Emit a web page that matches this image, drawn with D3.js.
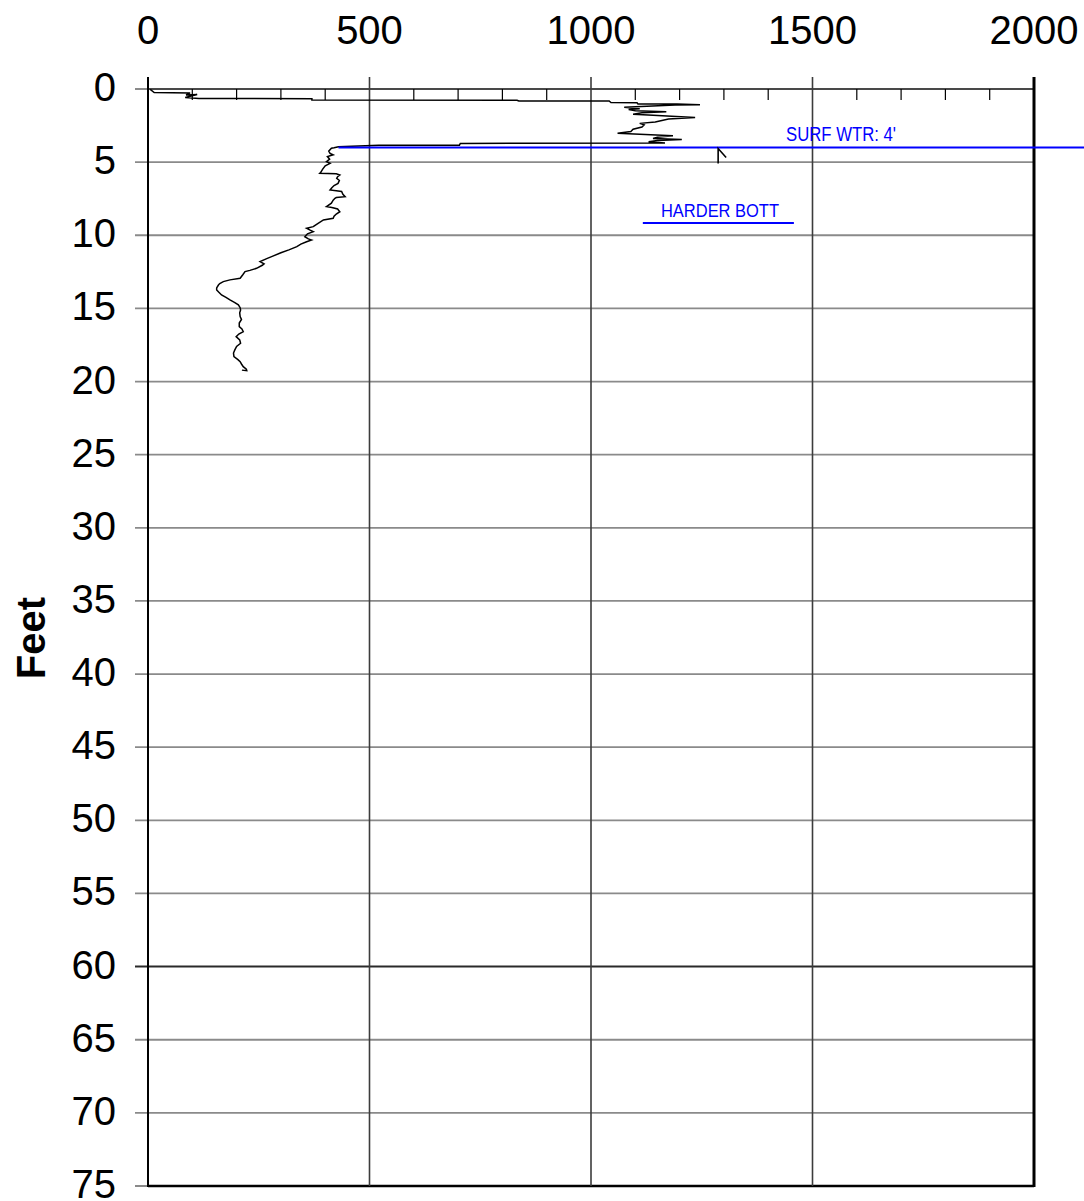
<!DOCTYPE html>
<html>
<head>
<meta charset="utf-8">
<script src="https://cdn.jsdelivr.net/npm/d3@7"></script>
<style>
  html, body { margin: 0; padding: 0; background: #fff; }
  svg { display: block; }
</style>
</head>
<body>
<div id="chart"></div>
<script>
// Probe log: reading (horizontal axis) vs depth in feet (vertical axis, increasing downward)
const xTicks = [0, 500, 1000, 1500, 2000];
const xMinorTicks = [100, 200, 300, 400, 600, 700, 800, 900, 1100, 1200, 1300, 1400, 1600, 1700, 1800, 1900];
const yTicks = [0, 5, 10, 15, 20, 25, 30, 35, 40, 45, 50, 55, 60, 65, 70, 75];

// trace depth (ft) and reading, point by point down the hole
const traceDepth = [
  0.03, 0.24, 0.27, 0.41, 0.38, 0.58, 0.65, 0.66, 0.75, 0.77, 0.82, 0.82, 0.92, 0.94, 1.03, 1.03, 1.07,
  1.10, 1.25, 1.35, 1.40, 1.48, 1.55, 1.62, 1.72, 1.80, 1.95, 2.05, 2.15, 2.25, 2.35, 2.45, 2.60, 2.75,
  2.90, 3.02, 3.10, 3.20, 3.30, 3.38, 3.45, 3.52, 3.60, 3.70, 3.72, 3.84, 3.85, 3.95,
  4.02, 4.05, 4.25, 4.40, 4.50, 4.62, 4.80, 4.97, 5.08, 5.25, 5.49, 5.70, 5.76, 5.80, 5.88, 6.00, 6.10,
  6.25, 6.45, 6.60, 6.75, 6.90, 6.95, 7.00, 7.20, 7.36, 7.42, 7.47, 7.60, 7.81, 8.04, 8.10, 8.20, 8.39,
  8.55, 8.70, 8.84, 8.95, 9.18, 9.30, 9.41, 9.52, 9.65, 9.75, 9.90, 10.10, 10.25, 10.32, 10.44, 10.60,
  10.78, 11.00, 11.20, 11.46, 11.60, 11.80, 11.95, 12.05, 12.26, 12.40, 12.48, 12.70, 12.94, 13.05,
  13.17, 13.30, 13.40, 13.60, 13.74, 13.90, 14.08, 14.25, 14.42, 14.60, 14.76, 14.95, 15.10, 15.30,
  15.56, 15.75, 16.00, 16.25, 16.40, 16.59, 16.75, 16.93, 17.15, 17.38, 17.60, 17.84, 18.05, 18.30,
  18.50, 18.64, 18.80, 18.98, 19.15, 19.26, 19.22
];
const traceValue = [
  5, 14, 95, 86, 111, 84, 115, 370, 370, 833, 837, 1041, 1045, 1104, 1106, 1194, 1246,
  1190, 1075, 1110, 1085, 1100, 1170, 1115, 1095, 1140, 1235, 1175, 1160, 1145, 1110, 1120, 1115, 1095,
  1090, 1060, 1110, 1185, 1150, 1140, 1205, 1150, 1130, 1167, 705, 703, 521, 430,
  420, 414, 408, 411, 418, 405, 410, 403, 411, 400, 394, 390, 388, 425, 433, 428, 426,
  432, 429, 420, 415, 411, 425, 437, 440, 445, 425, 422, 418, 414, 403, 415, 428, 433,
  425, 420, 418, 396, 384, 378, 373, 358, 366, 373, 360, 354, 362, 369, 358, 345,
  336, 318, 300, 279, 268, 253, 262, 258, 245, 230, 219, 214, 208, 185,
  170, 162, 159, 155, 155, 160, 166, 176, 185, 196, 204, 208, 209, 207,
  208, 211, 206, 206, 212, 215, 205, 199, 207, 209, 200, 196, 193, 194,
  203, 208, 211, 215, 222, 223, 212
];

// annotations
const surfaceWaterDepth = 4;
const surfaceWaterFrom = 430;
const surfaceWaterTo = 2120;
const surfaceWaterLabel = "SURF WTR: 4'";
const hardBottomLabel = "HARDER BOTT";
const hardBottomLabelAt = [1158, 8.75];
const hardBottomUnderline = [1117, 1458, 9.16];
const cursorMark = [1287, 4.0, 5.1];

const W = 1084, H = 1201;
const svg = d3.select("#chart").append("svg").attr("width", W).attr("height", H);

const x = d3.scaleLinear().domain([0, 2000]).range([148, 1034]);
const y = d3.scaleLinear().domain([0, 75]).range([89, 1186]);

const hGridColor = "#8a8a8a";
const vGridColor = "#3c3c3c";
const FONT = "Arial, 'Liberation Sans', Helvetica, sans-serif";

// horizontal grid lines (with short ticks to the left of the frame)
svg.append("g").selectAll("line").data(yTicks).join("line")
  .attr("x1", 135).attr("x2", x(2000))
  .attr("y1", d => y(d)).attr("y2", d => y(d))
  .attr("stroke", d => (d === 60 ? "#2a2a2a" : hGridColor))
  .attr("stroke-width", d => (d === 60 ? 2 : 1.8));

// frame edges that are heavier than the grid
svg.append("line").attr("x1", x(0)).attr("x2", x(2000)).attr("y1", y(0)).attr("y2", y(0))
  .attr("stroke", "#333").attr("stroke-width", 1.6);
svg.append("line").attr("x1", x(0)).attr("x2", x(2000)).attr("y1", y(75)).attr("y2", y(75))
  .attr("stroke", "#000").attr("stroke-width", 2.5);

// vertical grid lines
svg.append("g").selectAll("line").data(xTicks.filter(d => d > 0 && d < 2000)).join("line")
  .attr("x1", d => x(d)).attr("x2", d => x(d))
  .attr("y1", 77).attr("y2", y(75))
  .attr("stroke", vGridColor).attr("stroke-width", 1.6);

// left and right frame
svg.append("line").attr("x1", x(0)).attr("x2", x(0)).attr("y1", 77).attr("y2", y(75) + 1)
  .attr("stroke", "#000").attr("stroke-width", 2);
svg.append("line").attr("x1", x(2000)).attr("x2", x(2000)).attr("y1", 77).attr("y2", y(75) + 1)
  .attr("stroke", "#000").attr("stroke-width", 3);

// minor ticks hanging from the top edge
svg.append("g").selectAll("line").data(xMinorTicks).join("line")
  .attr("x1", d => x(d)).attr("x2", d => x(d))
  .attr("y1", y(0)).attr("y2", y(0) + 11)
  .attr("stroke", "#000").attr("stroke-width", 1.2);

// tick labels
svg.append("g").selectAll("text").data(xTicks).join("text")
  .attr("x", d => x(d)).attr("y", 44)
  .attr("text-anchor", "middle")
  .attr("font-family", FONT).attr("font-size", 40).attr("fill", "#000")
  .text(d => d);

svg.append("g").selectAll("text").data(yTicks).join("text")
  .attr("x", 116).attr("y", d => y(d) + 12)
  .attr("text-anchor", "end")
  .attr("font-family", FONT).attr("font-size", 40).attr("fill", "#000")
  .text(d => d);

// axis title
svg.append("text")
  .attr("transform", `translate(45,638) rotate(-90)`)
  .attr("text-anchor", "middle")
  .attr("font-family", FONT).attr("font-size", 40).attr("font-weight", "bold")
  .attr("fill", "#000")
  .text("Feet");

// probe trace
const pts = traceDepth.map((d, i) => [traceValue[i], d]);
const line = d3.line().x(p => x(p[0])).y(p => y(p[1]));
svg.append("path").datum(pts)
  .attr("d", line)
  .attr("fill", "none").attr("stroke", "#000").attr("stroke-width", 1.5)
  .attr("stroke-linejoin", "miter");

// surface water line and label
svg.append("line")
  .attr("x1", x(surfaceWaterFrom)).attr("x2", x(surfaceWaterTo))
  .attr("y1", y(surfaceWaterDepth)).attr("y2", y(surfaceWaterDepth))
  .attr("stroke", "#0000ff").attr("stroke-width", 2);
svg.append("text")
  .attr("x", 786).attr("y", 141)
  .attr("font-family", "'Liberation Sans Narrow', 'Arial Narrow', Arial, sans-serif")
  .attr("font-size", 20).attr("fill", "#0000ff")
  .attr("textLength", 110).attr("lengthAdjust", "spacingAndGlyphs")
  .text(surfaceWaterLabel);

// cursor mark under the water line
svg.append("path")
  .attr("d", `M${x(cursorMark[0])},${y(cursorMark[2])} L${x(cursorMark[0])},${y(cursorMark[1]) + 1} L${x(cursorMark[0]) + 8},${y(cursorMark[1]) + 10}`)
  .attr("fill", "none").attr("stroke", "#000").attr("stroke-width", 1.6);

// harder bottom label
svg.append("text")
  .attr("x", x(hardBottomLabelAt[0])).attr("y", y(hardBottomLabelAt[1]))
  .attr("font-family", "'Liberation Sans Narrow', 'Arial Narrow', Arial, sans-serif")
  .attr("font-size", 18).attr("fill", "#0000ff")
  .attr("textLength", 118).attr("lengthAdjust", "spacingAndGlyphs")
  .text(hardBottomLabel);
svg.append("line")
  .attr("x1", x(hardBottomUnderline[0])).attr("x2", x(hardBottomUnderline[1]))
  .attr("y1", y(hardBottomUnderline[2])).attr("y2", y(hardBottomUnderline[2]))
  .attr("stroke", "#0000ff").attr("stroke-width", 2);
</script>
</body>
</html>
